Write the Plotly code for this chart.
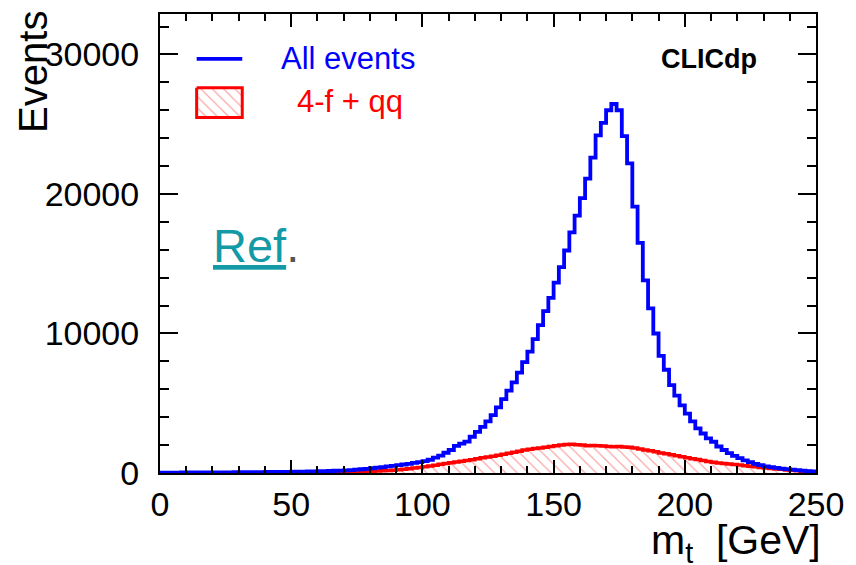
import numpy as np
import plotly.graph_objects as go

# ---------------- data (2 GeV bins, 0..250 GeV) ----------------
bin_width = 2.0
x_min, x_max = 0.0, 250.0

all_events = [
    # 0-50
    20, 25, 30, 30, 35, 35, 40, 40, 40, 45, 45, 50, 50, 50, 55, 55, 60, 60, 65, 65, 70, 70, 75, 80, 85,
    # 50-70
    90, 95, 100, 110, 115, 125, 135, 145, 160, 175,
    # 70-90
    190, 210, 240, 270, 300, 340, 380, 420, 470, 510,
    # 90-100
    560, 610, 660, 720, 780,
    # 100-110
    850, 950, 1100, 1250, 1450,
    # 110-120
    1650, 1950, 2100, 2250, 2600,
    # 120-130
    2950, 3300, 3700, 4150, 4700,
    # 130-140
    5300, 5900, 6500, 7200, 7950,
    # 140-150
    8700, 9600, 10600, 11600, 12550,
    # 150-160
    13650, 14750, 15950, 17250, 18450,
    # 160-170
    19700, 21100, 22600, 24200, 25100,
    # 170-180
    26000, 26450, 26000, 24150, 22200,
    # 180-190
    19100, 16500, 13800, 11800, 10000,
    # 190-200
    8400, 7400, 6300, 5550, 4850,
    # 200-210
    4250, 3700, 3200, 2830, 2480,
    # 210-220
    2240, 1900, 1650, 1420, 1230,
    # 220-230
    1060, 900, 780, 660, 570,
    # 230-240
    480, 420, 370, 320, 280,
    # 240-250
    240, 200, 170, 140, 110,
]

bkg_4f_qq = [
    # 0-50
    5, 5, 5, 5, 5, 6, 6, 6, 7, 7, 7, 8, 8, 8, 9, 9, 10, 10, 11, 11, 12, 13, 14, 15, 16,
    # 50-70
    18, 20, 22, 25, 28, 31, 35, 40, 45, 52,
    # 70-90
    60, 70, 80, 95, 110, 125, 140, 160, 180, 200,
    # 90-100
    225, 260, 300, 350, 400,
    # 100-110
    450, 500, 560, 620, 680,
    # 110-120
    730, 790, 850, 900, 950,
    # 120-130
    1020, 1090, 1150, 1200, 1280,
    # 130-140
    1350, 1420, 1480, 1560, 1650,
    # 140-150
    1700, 1750, 1800, 1850, 1900,
    # 150-160
    1950, 2000, 2050, 2060, 2020,
    # 160-170
    2000, 1960, 1980, 1950, 1930,
    # 170-180
    1900, 1880, 1900, 1870, 1850,
    # 180-190
    1800, 1720, 1650, 1600, 1520,
    # 190-200
    1440, 1380, 1300, 1230, 1160,
    # 200-210
    1100, 1030, 960, 900, 820,
    # 210-220
    770, 720, 680, 640, 610,
    # 220-230
    570, 520, 480, 440, 400,
    # 230-240
    360, 330, 290, 260, 220,
    # 240-250
    190, 160, 130, 110, 90,
]

x_ticks = [0, 50, 100, 150, 200, 250]
y_ticks = [0, 10000, 20000, 30000]
y_max = 32900

series_labels = ["All events", "4-f + qq"]
x_title = "m<sub>t</sub>  [GeV]"
y_title = "Events"
experiment_label = "CLICdp"

# ---------------- build ----------------
edges = np.arange(x_min, x_max + bin_width / 2, bin_width)


def step_y(vals):
    return list(vals) + [vals[-1]]


BLUE = "#0000ff"
RED = "#ff0000"
FONT = "Liberation Sans, Arial, Helvetica, sans-serif"
HATCH = dict(shape="\\", fgcolor="rgba(240,40,40,0.85)", bgcolor="rgba(0,0,0,0)",
             size=8, solidity=0.15)

fig = go.Figure()

fig.add_trace(go.Scatter(
    x=edges, y=step_y(bkg_4f_qq), mode="lines", line_shape="hv",
    line=dict(color=RED, width=3.5),
    fill="tozeroy", fillcolor="rgba(0,0,0,0)", fillpattern=HATCH,
    name=series_labels[1], showlegend=False, hoverinfo="skip",
))
fig.add_trace(go.Scatter(
    x=edges, y=step_y(all_events), mode="lines", line_shape="hv",
    line=dict(color=BLUE, width=3.8),
    name=series_labels[0], showlegend=False, hoverinfo="skip",
))

# overlay axes in pixel units for the legend keys
PX_L, PX_R, PX_T, PX_B = 160, 822, 12, 473
W, H = 856, 565


def px(xp):
    return (xp - PX_L) / (PX_R - PX_L)


def py(yp):
    return (PX_B - yp) / (PX_B - PX_T)


fig.add_trace(go.Scatter(
    x=[197, 243], y=[57, 57], mode="lines", line=dict(color=BLUE, width=3.8),
    xaxis="x2", yaxis="y2", showlegend=False, hoverinfo="skip",
))
fig.add_trace(go.Scatter(
    x=[197, 243, 243, 197, 197], y=[86, 86, 116, 116, 86], mode="lines",
    line=dict(color=RED, width=3), fill="toself", fillcolor="rgba(0,0,0,0)",
    fillpattern=HATCH,
    xaxis="x2", yaxis="y2", showlegend=False, hoverinfo="skip",
))

annotations = [
    dict(x=px(280), y=py(57), text=series_labels[0], font=dict(color=BLUE, size=31, family=FONT),
         xanchor="left", yanchor="middle"),
    dict(x=px(296), y=py(100), text=series_labels[1], font=dict(color=RED, size=31, family=FONT),
         xanchor="left", yanchor="middle"),
    dict(x=px(764), y=py(57), text="<b>" + experiment_label + "</b>",
         font=dict(color="black", size=27, family=FONT), xanchor="right", yanchor="middle"),
    dict(x=px(211), y=py(245), text="<u>Ref</u><span style='color:#555555'>.</span>",
         font=dict(color="#149aa6", size=47, family=FONT), xanchor="left", yanchor="middle"),
    dict(x=px(32), y=py(70), text=y_title, textangle=-90, font=dict(color="black", size=40, family=FONT),
         xanchor="center", yanchor="middle"),
    dict(x=px(829), y=py(515), text=x_title, font=dict(color="black", size=41, family=FONT),
         xanchor="right", yanchor="top"),
]
for a in annotations:
    a.update(xref="paper", yref="paper", showarrow=False)

fig.update_layout(
    width=W, height=H,
    margin=dict(l=PX_L, r=W - PX_R, t=PX_T, b=H - PX_B, pad=0),
    paper_bgcolor="white", plot_bgcolor="white",
    font=dict(family=FONT, color="black"),
    annotations=annotations,
    xaxis=dict(
        range=[x_min, x_max], tickvals=x_ticks, ticktext=[str(v) for v in x_ticks],
        ticks="inside", ticklen=13, tickwidth=2, tickcolor="black",
        minor=dict(ticks="inside", dtick=10, ticklen=7, tickwidth=2, tickcolor="black"),
        showline=True, linewidth=2, linecolor="black", mirror="allticks",
        showgrid=False, zeroline=False,
        tickfont=dict(size=34, family=FONT), ticklabelstandoff=0,
    ),
    yaxis=dict(
        range=[0, y_max], tickvals=y_ticks, ticktext=[str(v) for v in y_ticks],
        ticks="inside", ticklen=18, tickwidth=2, tickcolor="black",
        minor=dict(ticks="inside", dtick=2000, ticklen=9, tickwidth=2, tickcolor="black"),
        showline=True, linewidth=2, linecolor="black", mirror="allticks",
        showgrid=False, zeroline=False,
        tickfont=dict(size=34, family=FONT), ticklabelstandoff=12,
    ),
    xaxis2=dict(range=[PX_L, PX_R], overlaying="x", anchor="y2", visible=False, fixedrange=True),
    yaxis2=dict(range=[PX_B, PX_T], overlaying="y", anchor="x2", visible=False, fixedrange=True),
    showlegend=False,
)

fig.write_html("out.html")
